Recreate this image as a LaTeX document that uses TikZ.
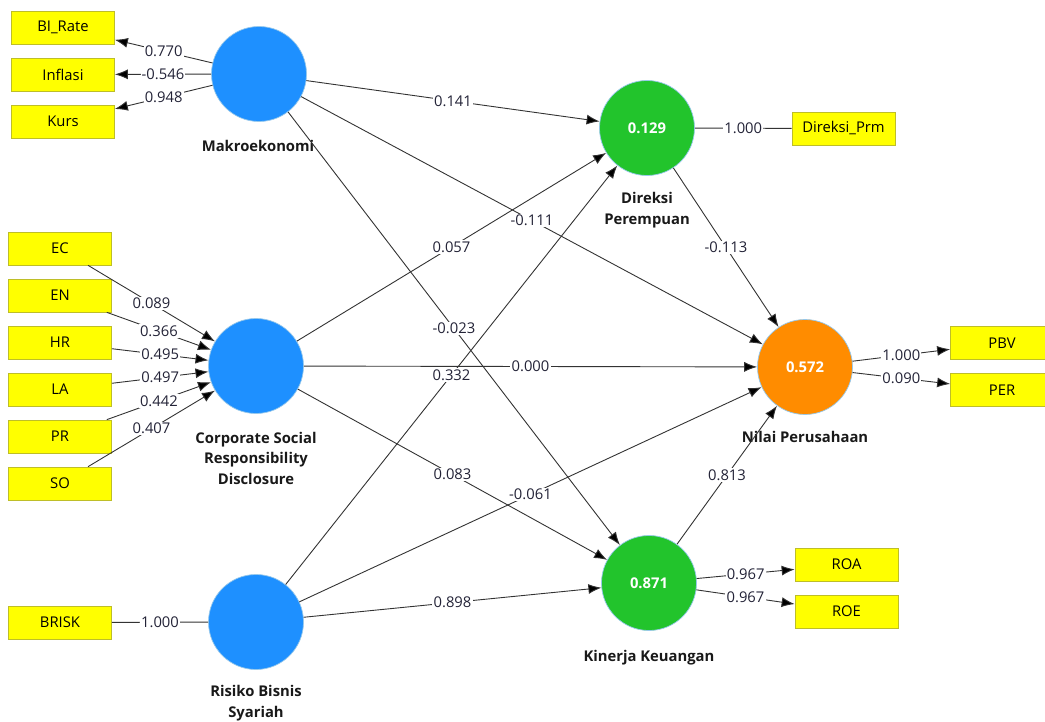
\documentclass[tikz,border=0pt]{standalone}
\usepackage{fontspec}
\setmainfont{Open Sans}
\usetikzlibrary{arrows.meta}
\definecolor{lvblue}{RGB}{30,144,255}
\definecolor{lvgreen}{RGB}{34,196,44}
\definecolor{lvorange}{RGB}{255,140,0}
\definecolor{lvrim}{RGB}{150,200,235}
\definecolor{indyellow}{RGB}{255,255,0}
\definecolor{indrim}{RGB}{190,190,40}
\definecolor{numcol}{RGB}{35,35,55}
\begin{document}
\begin{tikzpicture}[x=1pt,y=-1pt,
  font=\fontsize{14.8}{17}\selectfont,
  ind/.style={rectangle, fill=indyellow, draw=indrim, line width=0.7pt, minimum width=103pt, minimum height=33pt, inner sep=0pt},
  lv/.style={circle, minimum size=95pt, inner sep=0pt, draw=lvrim, line width=0.7pt, text=white, font=\fontsize{14.8}{17}\selectfont\bfseries},
  lvname/.style={font=\fontsize{14.8}{20.5}\selectfont\bfseries, align=center, text=black!90},
  arr/.style={draw=black!80, line width=0.9pt, -{Latex[length=13pt,width=10pt,fill=black]}},
  link/.style={draw=black!80, line width=0.9pt},
  w/.style={fill=white, inner sep=1.2pt, text=numcol}
]
\useasboundingbox (0,0) rectangle (1045,722);
% latent variables
\node[lv, fill=lvblue] (mak) at (259,74) {};
\node[lv, fill=lvblue] (csr) at (256,366) {};
\node[lv, fill=lvblue] (ris) at (256,622) {};
\node[lv, fill=lvgreen] (dir) at (647,128) {0.129};
\node[lv, fill=lvorange] (nil) at (805,367) {0.572};
\node[lv, fill=lvgreen] (kin) at (649,583) {0.871};
% names
\node[lvname] (makn) at (258,146) {Makroekonomi};
\node[lvname] (csrn) at (256,458) {Corporate Social\\Responsibility\\Disclosure};
\node[lvname] (risn) at (256,703) {Risiko Bisnis\\Syariah};
\node[lvname] (dirn) at (647,210) {Direksi\\Perempuan};
\node[lvname] (niln) at (805,437) {Nilai Perusahaan};
\node[lvname] (kinn) at (649,658) {Kinerja Keuangan};
% indicators
\node[ind] (bi) at (63,27.5) {BI\_Rate};
\node[ind] (inf) at (63,74.5) {Inflasi};
\node[ind] (kurs) at (63,121.5) {Kurs};
\node[ind] (ec) at (60,248.5) {EC};
\node[ind] (en) at (60,295.5) {EN};
\node[ind] (hr) at (60,342.5) {HR};
\node[ind] (la) at (60,389.5) {LA};
\node[ind] (pr) at (60,436.5) {PR};
\node[ind] (so) at (60,483.5) {SO};
\node[ind] (brisk) at (60,622.5) {BRISK};
\node[ind] (dprm) at (843.5,128.5) {Direksi\_Prm};
\node[ind] (pbv) at (1002,343) {PBV};
\node[ind] (per) at (1002,390) {PER};
\node[ind] (roa) at (846.5,564.5) {ROA};
\node[ind] (roe) at (846.5,611.5) {ROE};
% outer model
\draw[arr] (mak) -- node[w]{0.770} (bi);
\draw[arr] (mak) -- node[w]{-0.546} (inf);
\draw[arr] (mak) -- node[w]{0.948} (kurs);
\draw[arr] (ec) -- node[w]{0.089} (csr);
\draw[arr] (en) -- node[w]{0.366} (csr);
\draw[arr] (hr) -- node[w]{0.495} (csr);
\draw[arr] (la) -- node[w]{0.497} (csr);
\draw[arr] (pr) -- node[w]{0.442} (csr);
\draw[arr] (so) -- node[w]{0.407} (csr);
\draw[link] (brisk) -- node[w]{1.000} (ris);
\draw[link] (dir) -- node[w]{1.000} (dprm);
\draw[arr] (nil) -- node[w]{1.000} (pbv);
\draw[arr] (nil) -- node[w]{0.090} (per);
\draw[arr] (kin) -- node[w]{0.967} (roa);
\draw[arr] (kin) -- node[w]{0.967} (roe);
% inner model
\draw[arr] (mak) -- node[w]{0.141} (dir);
\draw[arr] (mak) -- node[w]{-0.111} (nil);
\draw[arr] (mak) -- node[w]{-0.023} (kin);
\draw[arr] (csr) -- node[w]{0.057} (dir);
\draw[arr] (csr) -- node[w]{0.000} (nil);
\draw[arr] (csr) -- node[w]{0.083} (kin);
\draw[arr] (ris) -- node[w]{0.332} (dir);
\draw[arr] (ris) -- node[w]{-0.061} (nil);
\draw[arr] (ris) -- node[w]{0.898} (kin);
\draw[arr] (dir) -- node[w]{-0.113} (nil);
\draw[arr] (kin) -- node[w]{0.813} (nil);
\end{tikzpicture}
\end{document}
